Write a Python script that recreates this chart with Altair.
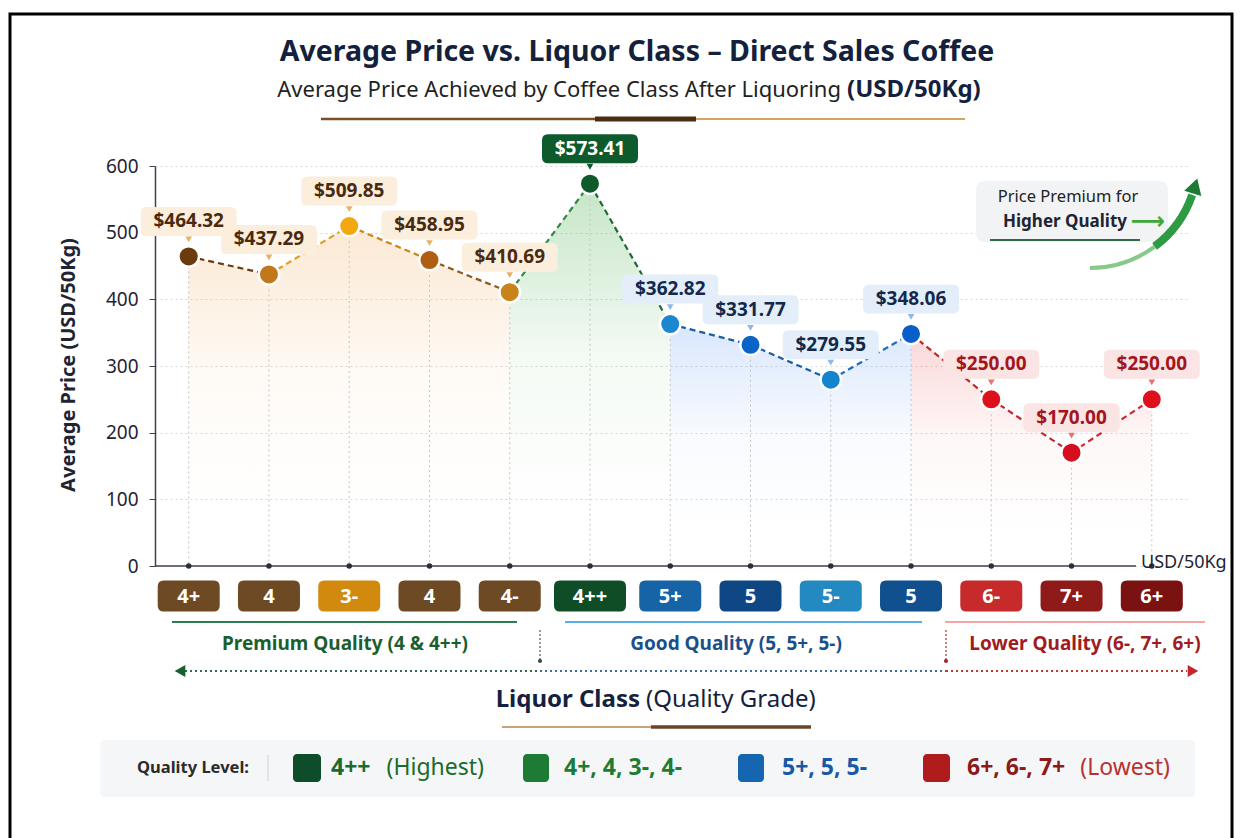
import altair as alt
import pandas as pd

# ---------------- data ----------------
classes = ["4+", "4", "3-", "4", "4-", "4++", "5+", "5", "5-", "5", "6-", "7+", "6+"]
prices = [464.32, 437.29, 509.85, 458.95, 410.69, 573.41, 362.82, 331.77, 279.55, 348.06, 250.00, 170.00, 250.00]
tiers = ["premium"] * 5 + ["top"] + ["good"] * 4 + ["lower"] * 3
point_colors = ["#6B3A0E", "#C0781A", "#F2A90F", "#B05E12", "#C8841A", "#0F5A2B",
                "#1C86CF", "#0A64C8", "#1584CE", "#0A5EC9", "#DE101C", "#D60F1F", "#DE101C"]
badge_colors = ["#6E4A24", "#6E4A24", "#D18A0E", "#6E4A24", "#6E4A24", "#0E4D26",
                "#1663A6", "#0E4784", "#2389C0", "#10508F", "#C62A2A", "#8E1A1A", "#7A1212"]
segment_colors = ["#6B3A12", "#E0A020", "#C8861A", "#8B5A1F", "#2E8B3E", "#1E6B34",
                  "#1A5FA0", "#1A5FA0", "#1A6FC0", "#C0282D", "#C0282D", "#D0282D"]
y_ticks = [0, 100, 200, 300, 400, 500, 600]

label_text = {"premium": "#4A2A0F", "top": "#FFFFFF", "good": "#13294B", "lower": "#A3161B"}
label_bg = {"premium": "#FBEEDD", "top": "#0D5A2C", "good": "#E4EEFA", "lower": "#FBE4E4"}
pointer_col = {"premium": "#E7B36A", "top": "#0D5A2C", "good": "#8DB9E8", "lower": "#E57373"}

FONT = "Noto Sans"
DARK = "#14213D"


def rrect_path(w, h, r, s):
    hw, hh, rr = w / 2 / s, h / 2 / s, r / s
    return (f"M{-hw+rr},{-hh} L{hw-rr},{-hh} Q{hw},{-hh} {hw},{-hh+rr} "
            f"L{hw},{hh-rr} Q{hw},{hh} {hw-rr},{hh} L{-hw+rr},{hh} "
            f"Q{-hw},{hh} {-hw},{hh-rr} L{-hw},{-hh+rr} Q{-hw},{-hh} {-hw+rr},{-hh} Z")


S = 15.0
SYM_SIZE = (2 * S) ** 2
badge_narrow = rrect_path(62, 31, 6, S)
badge_wide = rrect_path(72, 31, 6, S)
label_box = rrect_path(96, 29, 6, S)

df = pd.DataFrame({
    "i": list(range(len(classes))),
    "cls": classes,
    "price": prices,
    "tier": tiers,
    "pc": point_colors,
    "bc": badge_colors,
    "lbl": [f"${p:.2f}" for p in prices],
})
df["tc"] = df["tier"].map(label_text)
df["bg"] = df["tier"].map(label_bg)
df["ptr"] = df["tier"].map(pointer_col)
df["bshape"] = [badge_wide if len(c) > 2 else badge_narrow for c in classes]

seg_rows = []
for k in range(len(prices) - 1):
    for j in (k, k + 1):
        seg_rows.append({"seg": k, "i": j, "price": prices[j], "c": segment_colors[k]})
seg_df = pd.DataFrame(seg_rows)

one = pd.DataFrame({"a": [0]})

xscale = alt.Scale(domain=[-0.42, 12.476], nice=False, zero=False)
yscale = alt.Scale(domain=[0, 600], nice=False)
X = alt.X("i:Q", scale=xscale, axis=None)
Y = alt.Y("price:Q", scale=yscale, title=None,
          axis=alt.Axis(values=y_ticks, grid=True, gridDash=[2, 3], gridColor="#D8D8D8",
                        labelFontSize=19, labelColor="#1F2433", labelFont=FONT, labelPadding=11,
                        tickSize=6, tickColor="#3B4250", domainColor="#3B4250", domainWidth=1.5))


def txt(s, x, y, size, color, weight="normal", align="center", angle=0, font=FONT):
    kw = dict(text=s, align=align, baseline="middle", fontSize=size, fontWeight=weight,
              color=color, font=font)
    if angle:
        kw["angle"] = angle
    return alt.Chart(one).mark_text(**kw).encode(x=alt.value(x), y=alt.value(y))


def hrule(x1, x2, y, color, width, dash=None):
    kw = dict(color=color, strokeWidth=width)
    if dash:
        kw["strokeDash"] = dash
    return alt.Chart(one).mark_rule(**kw).encode(x=alt.value(x1), x2=alt.value(x2), y=alt.value(y))


def vrule(x, y1, y2, color, width, dash=None):
    kw = dict(color=color, strokeWidth=width)
    if dash:
        kw["strokeDash"] = dash
    return alt.Chart(one).mark_rule(**kw).encode(x=alt.value(x), y=alt.value(y1), y2=alt.value(y2))


def box(x1, x2, y1, y2, fill, radius=0):
    return alt.Chart(one).mark_rect(fill=fill, cornerRadius=radius).encode(
        x=alt.value(x1), x2=alt.value(x2), y=alt.value(y1), y2=alt.value(y2))


def grad(r, g, b, a):
    return alt.Gradient(
        gradient="linear",
        stops=[alt.GradientStop(offset=0, color=f"rgba({r},{g},{b},{a})"),
               alt.GradientStop(offset=0.45, color=f"rgba({r},{g},{b},{a * 0.2})"),
               alt.GradientStop(offset=0.85, color=f"rgba({r},{g},{b},0)")],
        x1=0, x2=0, y1=0, y2=1)


base = alt.Chart(df)

layers = []

# frame + background boxes
layers.append(alt.Chart(one).mark_rect(filled=False, stroke="#000000", strokeWidth=3).encode(
    x=alt.value(-145), x2=alt.value(1077), y=alt.value(-152), y2=alt.value(700)))
layers.append(box(-55, 1040, 574, 631, "#F5F6F7", 4))
layers.append(box(821, 1013, 15, 76, "#F2F3F4", 8))

# area fills
area_specs = [((0, 4), (243, 185, 120, 0.32)), ((4, 6), (76, 175, 80, 0.32)),
              ((6, 9), (66, 133, 244, 0.20)), ((9, 12), (229, 57, 53, 0.20))]
for (lo, hi), (r, g, b, a) in area_specs:
    layers.append(base.transform_filter(alt.FieldRangePredicate(field="i", range=[lo, hi]))
                  .mark_area(fill=grad(r, g, b, a)).encode(x=X, y=Y))

# vertical drop lines
layers.append(base.mark_rule(color="#C4C4C4", strokeWidth=1, strokeDash=[2, 3]).encode(
    x=X, y=Y, y2=alt.value(400)))

# x axis line + dots
layers.append(hrule(0, 981, 400, "#3B4250", 1.6))
layers.append(base.mark_circle(size=30, color="#2A2F3A", opacity=1).encode(x=X, y=alt.value(400)))
layers.append(txt("USD/50Kg", 986, 397, 18, "#1F2433", align="left"))

# dashed segments
layers.append(alt.Chart(seg_df).mark_line(strokeDash=[6, 4], strokeWidth=2.2).encode(
    x=X, y=Y, detail="seg:N", color=alt.Color("c:N", scale=None)))

# points
layers.append(base.mark_circle(size=420, opacity=1, stroke="white", strokeWidth=2.5).encode(
    x=X, y=Y, color=alt.Color("pc:N", scale=None)))

# value labels
layers.append(base.mark_point(shape=label_box, filled=True, size=SYM_SIZE, opacity=1,
                              strokeWidth=0, yOffset=-35).encode(
    x=X, y=Y, color=alt.Color("bg:N", scale=None)))
layers.append(base.mark_point(shape="triangle-down", filled=True, size=45, opacity=1,
                              strokeWidth=0, yOffset=-17).encode(
    x=X, y=Y, color=alt.Color("ptr:N", scale=None)))
layers.append(base.mark_text(fontSize=19, fontWeight="bold", font=FONT, dy=-35, baseline="middle").encode(
    x=X, y=Y, text="lbl:N", color=alt.Color("tc:N", scale=None)))

# class badges
layers.append(base.mark_point(filled=True, size=SYM_SIZE, opacity=1, strokeWidth=0).encode(
    x=X, y=alt.value(430), shape=alt.Shape("bshape:N", scale=None),
    color=alt.Color("bc:N", scale=None)))
layers.append(base.mark_text(fontSize=20, fontWeight="bold", font=FONT, color="white",
                             baseline="middle").encode(x=X, y=alt.value(431), text="cls:N"))

# quality groups
layers.append(hrule(17, 362, 456, "#2E7D50", 2))
layers.append(hrule(410, 767, 456, "#5AAEE8", 2))
layers.append(hrule(790, 1050, 456, "#F5A5A5", 2))
layers.append(txt("Premium Quality (4 & 4++)", 190, 478, 19, "#1D5E2F", "bold"))
layers.append(txt("Good Quality (5, 5+, 5-)", 581, 478, 19, "#1B4F8A", "bold"))
layers.append(txt("Lower Quality (6-, 7+, 6+)", 930, 478, 19, "#A01C22", "bold"))
layers.append(vrule(385, 464, 494, "#555555", 1.2, [2, 2]))
layers.append(vrule(791, 464, 494, "#B03030", 1.2, [2, 2]))
layers.append(alt.Chart(pd.DataFrame({"x": [385, 791], "c": ["#3D4A45", "#A02828"]}))
              .mark_circle(size=18, opacity=1).encode(
    x=alt.X("x:Q", scale=None), y=alt.value(495), color=alt.Color("c:N", scale=None)))
layers.append(hrule(30, 385, 505, "#2F6B4A", 1.8, [2, 3]))
layers.append(hrule(385, 791, 505, "#3A6EA5", 1.8, [2, 3]))
layers.append(hrule(791, 1032, 505, "#C0392B", 1.8, [2, 3]))
layers.append(alt.Chart(one).mark_point(shape="triangle-left", filled=True, size=150, opacity=1,
                                        color="#1D5E2F").encode(x=alt.value(25), y=alt.value(505)))
layers.append(alt.Chart(one).mark_point(shape="triangle-right", filled=True, size=150, opacity=1,
                                        color="#C0282D").encode(x=alt.value(1038), y=alt.value(505)))

# axis titles
layers.append(txt("Average Price (USD/50Kg)", -86, 199, 20, "#1F2433", "bold", angle=270))
layers.append(txt("Liquor Class", 485, 534, 24, DARK, "bold", align="right"))
layers.append(txt("(Quality Grade)", 491, 534, 24, DARK, align="left"))
layers.append(hrule(347, 496, 561, "#C8A27A", 2))
layers.append(hrule(496, 656, 561, "#6B4423", 3.5))

# title block
layers.append(txt("Average Price vs. Liquor Class \u2013 Direct Sales Coffee", 482, -114, 28.5, DARK, "bold"))
layers.append(txt("Average Price Achieved by Coffee Class After Liquoring", 686, -76, 22, "#222222",
                  align="right"))
layers.append(txt("(USD/50Kg)", 692, -76, 24, "#14213D", "bold", align="left"))
layers.append(hrule(166, 440, -47, "#7A4E26", 2.5))
layers.append(hrule(440, 541, -47, "#4A2E14", 5))
layers.append(hrule(541, 810, -47, "#D6A460", 2))

# price premium annotation
layers.append(txt("Price Premium for", 913, 31, 16.5, "#222222"))
layers.append(txt("Higher Quality", 848, 56, 17, "#1F2433", "bold", align="left"))
layers.append(txt("\u27f6", 993, 56, 24, "#3BAA3B", "bold", font="DejaVu Sans"))
layers.append(hrule(835, 985, 74, "#2F6B45", 2))
layers.append(alt.Chart(one).mark_arc(theta=2.5, theta2=3.1416, radius=106, radius2=110,
                                      color="#86C98A").encode(x=alt.value(935), y=alt.value(-6)))
layers.append(alt.Chart(one).mark_arc(theta=1.9, theta2=2.5, radius=104, radius2=112,
                                      color="#2E9A44").encode(x=alt.value(935), y=alt.value(-6)))
layers.append(alt.Chart(one).mark_point(shape="triangle-up", filled=True, size=320, opacity=1,
                                        angle=17, color="#1E7B34").encode(
    x=alt.value(1040), y=alt.value(20)))

# legend
layers.append(txt("Quality Level:", -18, 602, 16.5, "#2B2B2B", "bold", align="left"))
layers.append(vrule(113, 589, 615, "#D0D0D0", 1))
layers.append(box(138, 166, 588, 616, "#0E4D2A", 4))
layers.append(box(368, 394, 588, 616, "#1E7B34", 4))
layers.append(box(583, 609, 588, 616, "#1565B0", 4))
layers.append(box(768, 795, 588, 616, "#B01C1C", 4))
layers.append(txt("4++", 176, 602, 23, "#1B6B2E", "bold", align="left"))
layers.append(txt("(Highest)", 329, 602, 23, "#1B6B2E", align="right"))
layers.append(txt("4+, 4, 3-, 4-", 409, 602, 23, "#1E7B34", "bold", align="left"))
layers.append(txt("5+, 5, 5-", 627, 602, 23, "#1559A8", "bold", align="left"))
layers.append(txt("6+, 6-, 7+", 812, 602, 23, "#8B1A1A", "bold", align="left"))
layers.append(txt("(Lowest)", 1015, 602, 23, "#B83232", align="right"))

chart = alt.layer(*layers).properties(
    width=1035, height=400,
    padding={"left": 155, "top": 166, "right": 54, "bottom": 272},
    autosize=alt.AutoSizeParams(type="none"),
    background="white",
).configure_view(stroke=None)

chart.save("out.html", embed_options={"renderer": "svg", "actions": False})
